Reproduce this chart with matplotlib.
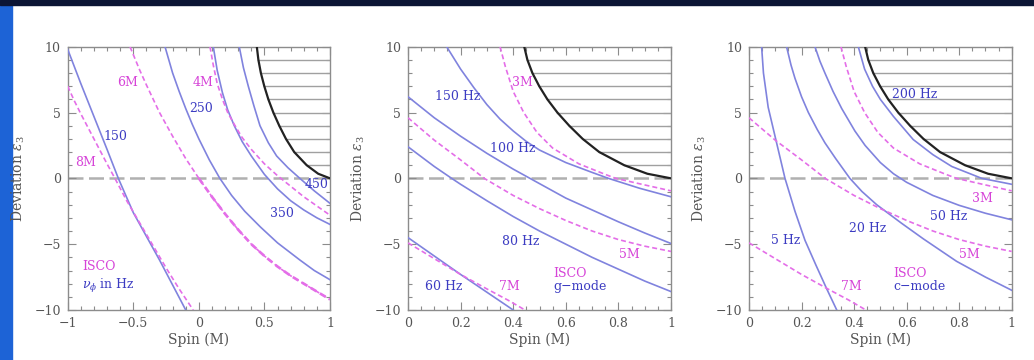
import numpy as np
import matplotlib.pyplot as plt
from matplotlib.patches import Rectangle
from matplotlib.ticker import FixedLocator, MultipleLocator

plt.rcParams["font.family"] = ["DejaVu Serif"]
plt.rcParams["mathtext.fontset"] = "dejavuserif"

# ---- data ----
# boundary of the excluded (hatched) region, same in all panels
edge_spin = [0.442, 0.454, 0.473, 0.499, 0.53, 0.568, 0.613, 0.664, 0.727, 0.822, 0.91, 1.0]
edge_eps = [10.0, 9.0, 8.0, 7.0, 6.0, 5.0, 4.0, 3.0, 2.0, 1.0, 0.35, 0.0]
hatch_levels = [1, 2, 3, 4, 5, 6, 7, 8, 9]

# panel 1: orbital frequency nu_phi
p1_150_spin = [-1.0, -0.9, -0.8, -0.7, -0.614, -0.5, -0.4, -0.3, -0.2, -0.1]
p1_150_eps = [9.8, 7.2, 4.7, 2.2, 0.0, -2.6, -4.4, -6.2, -8.1, -10.0]
p1_250_spin = [-0.258, -0.2, -0.15, -0.1, -0.05, 0.0, 0.08, 0.16, 0.25, 0.35, 0.47, 0.6, 0.77, 0.88, 1.0]
p1_250_eps = [10.0, 8.0, 6.6, 5.3, 4.1, 3.0, 1.4, 0.0, -1.3, -2.5, -3.7, -4.9, -6.2, -7.0, -7.7]
p1_350_spin = [0.11, 0.14, 0.18, 0.22, 0.27, 0.33, 0.4, 0.5, 0.6, 0.7, 0.8, 0.9, 1.0]
p1_350_eps = [10.0, 8.2, 6.5, 5.2, 4.0, 2.8, 1.7, 0.3, -0.8, -1.7, -2.4, -3.0, -3.5]
p1_450_spin = [0.308, 0.34, 0.377, 0.42, 0.466, 0.53, 0.593, 0.68, 0.77, 0.88, 1.0]
p1_450_eps = [10.0, 8.4, 7.0, 5.5, 4.0, 2.7, 1.7, 0.8, 0.0, -0.95, -1.9]

isco8_spin = [-1.0, -0.95, -0.9, -0.8, -0.7, -0.64, -0.55, -0.45, -0.35, -0.25, -0.15, -0.043]
isco8_eps = [7.0, 5.9, 4.9, 3.0, 1.1, 0.0, -1.7, -3.4, -5.1, -6.8, -8.4, -10.0]
isco6_spin = [-0.525, -0.45, -0.4, -0.3, -0.2, -0.1, 0.0, 0.1, 0.2, 0.3, 0.4, 0.5, 0.6, 0.7, 0.8, 0.9, 1.0]
isco6_eps = [10.0, 8.2, 7.1, 5.0, 3.2, 1.5, 0.0, -1.4, -2.7, -3.9, -5.0, -5.9, -6.7, -7.4, -8.0, -8.6, -9.2]
isco4_spin = [0.085, 0.11, 0.14, 0.18, 0.22, 0.27, 0.33, 0.4, 0.5, 0.6, 0.7, 0.8, 0.9, 1.0]
isco4_eps = [10.0, 8.6, 7.2, 6.0, 5.0, 4.1, 3.1, 2.2, 1.1, 0.2, -0.6, -1.4, -2.1, -2.8]

# ISCO curves shared by panels 2 and 3
isco3_spin = [0.35, 0.37, 0.40, 0.44, 0.49, 0.55, 0.65, 0.75, 0.79, 0.9, 1.0]
isco3_eps = [10.0, 8.5, 6.6, 5.0, 3.5, 2.3, 1.1, 0.3, 0.0, -0.5, -0.95]
isco5_spin = [0.0, 0.1, 0.2, 0.29, 0.4, 0.5, 0.6, 0.7, 0.8, 0.9, 1.0]
isco5_eps = [4.6, 2.9, 1.4, 0.0, -1.3, -2.3, -3.2, -4.0, -4.65, -5.15, -5.55]
isco7_spin = [0.0, 0.1, 0.2, 0.3, 0.38, 0.445]
isco7_eps = [-4.9, -6.1, -7.3, -8.4, -9.25, -10.0]

# panel 2: g-mode
g150_spin = [0.147, 0.2, 0.25, 0.3, 0.35, 0.4, 0.45, 0.5, 0.6, 0.7, 0.762, 0.88, 1.0]
g150_eps = [10.0, 8.3, 6.9, 5.6, 4.5, 3.6, 2.8, 2.15, 1.2, 0.45, 0.0, -0.75, -1.4]
g100_spin = [0.0, 0.1, 0.2, 0.3, 0.4, 0.45, 0.5, 0.6, 0.7, 0.8, 0.9, 1.0]
g100_eps = [6.2, 4.6, 3.2, 1.9, 0.7, 0.15, -0.4, -1.5, -2.4, -3.3, -4.15, -4.95]
g80_spin = [0.0, 0.1, 0.166, 0.2, 0.3, 0.4, 0.5, 0.6, 0.7, 0.8, 0.9, 1.0]
g80_eps = [2.4, 0.9, 0.0, -0.45, -1.7, -2.9, -4.0, -5.0, -6.0, -6.9, -7.8, -8.6]
g60_spin = [0.0, 0.1, 0.2, 0.3, 0.4]
g60_eps = [-4.5, -5.9, -7.3, -8.65, -10.0]

# panel 3: c-mode
c5_spin = [0.048, 0.055, 0.073, 0.105, 0.137, 0.175, 0.213, 0.255, 0.296, 0.334]
c5_eps = [10.0, 8.0, 5.4, 2.7, 0.0, -2.5, -4.7, -6.6, -8.4, -10.0]
c20_spin = [0.143, 0.16, 0.175, 0.2, 0.226, 0.26, 0.289, 0.33, 0.384, 0.43, 0.486, 0.58, 0.664, 0.79, 0.9, 1.0]
c20_eps = [10.0, 8.6, 7.6, 6.2, 5.0, 3.7, 2.7, 1.5, 0.0, -1.0, -2.0, -3.4, -4.6, -6.3, -7.5, -8.5]
c50_spin = [0.251, 0.27, 0.289, 0.32, 0.353, 0.403, 0.442, 0.5, 0.55, 0.6, 0.7, 0.8, 0.9, 1.0]
c50_eps = [10.0, 8.9, 8.0, 6.6, 5.3, 3.6, 2.5, 1.2, 0.35, -0.3, -1.3, -2.05, -2.65, -3.15]
c200_spin = [0.416, 0.44, 0.47, 0.5, 0.55, 0.625, 0.7, 0.772, 0.886, 1.0]
c200_eps = [10.0, 8.3, 7.0, 6.0, 4.7, 2.95, 1.8, 0.9, 0.0, -0.45]

ytick_vals = [-10, -5, 0, 5, 10]
ytick_text = ["\u221210", "\u22125", "0", "5", "10"]
x1_vals = [-1, -0.5, 0, 0.5, 1]
x1_text = ["\u22121", "\u22120.5", "0", "0.5", "1"]
x2_vals = [0, 0.2, 0.4, 0.6, 0.8, 1]
x2_text = ["0", "0.2", "0.4", "0.6", "0.8", "1"]

BLUE = "#8083de"
BLUE_TXT = "#3c3cc2"
PINK = "#e46ee8"
PINK_TXT = "#d644d8"
FRAME = "#8c8c8c"
TXT = "#555555"


def draw_panel(ax, xlim, xvals, xtext, xminor, blues, pinks, labels):
    for s, e in blues:
        ax.plot(s, e, color=BLUE, lw=1.2, zorder=3)
    for s, e in pinks:
        ax.plot(s, e, color=PINK, lw=1.2, ls=(0, (3, 1.8)), zorder=3)

    # excluded region
    ax.plot(edge_spin, edge_eps, color="#222222", lw=1.6, zorder=4)
    for k in hatch_levels:
        x0 = np.interp(k, edge_eps[::-1], edge_spin[::-1])
        ax.plot([x0, xlim[1]], [k, k], color="#a0a0a0", lw=1.0, zorder=2)

    ax.axhline(0, color="#b0b0b0", lw=1.8, ls=(0, (6, 2.2)), zorder=1)

    for x, y, s, c, ha in labels:
        ax.text(x, y, s, color=c, fontsize=9, ha=ha, va="center", zorder=5)

    ax.set_xlim(*xlim)
    ax.set_ylim(-10, 10)
    ax.xaxis.set_major_locator(FixedLocator(xvals))
    ax.set_xticklabels(xtext)
    ax.xaxis.set_minor_locator(MultipleLocator(xminor))
    ax.yaxis.set_major_locator(FixedLocator(ytick_vals))
    ax.set_yticklabels(ytick_text)
    ax.yaxis.set_minor_locator(MultipleLocator(1))
    ax.tick_params(which="both", direction="in", top=True, right=True, color=FRAME)
    ax.tick_params(which="major", length=6, width=0.8, labelsize=9, labelcolor=TXT, pad=5)
    ax.tick_params(which="minor", length=3, width=0.8)
    for sp in ax.spines.values():
        sp.set_color(FRAME)
        sp.set_linewidth(1.0)
    ax.set_xlabel("Spin (M)", fontsize=10, color=TXT)
    ax.set_ylabel(r"Deviation $\epsilon_3$", fontsize=10, color=TXT)
    ax.xaxis.set_label_coords(0.5, -0.085)
    ax.yaxis.set_label_coords(-0.155, 0.5)


fig = plt.figure(figsize=(10.34, 3.6), dpi=100)
fig.add_artist(Rectangle((0, 0), 12 / 1034, 1, transform=fig.transFigure,
                         color="#1d63d6", zorder=0))
fig.add_artist(Rectangle((0, 1 - 5 / 360), 1, 5 / 360, transform=fig.transFigure,
                         color="#0c1535", zorder=0))

bottom = 1 - 310 / 360
height = 263.3 / 360
ax1 = fig.add_axes([67.7 / 1034, bottom, 262.3 / 1034, height])
ax2 = fig.add_axes([408 / 1034, bottom, 263 / 1034, height])
ax3 = fig.add_axes([749 / 1034, bottom, 262.7 / 1034, height])

draw_panel(
    ax1, (-1, 1), x1_vals, x1_text, 0.1,
    [(p1_150_spin, p1_150_eps), (p1_250_spin, p1_250_eps),
     (p1_350_spin, p1_350_eps), (p1_450_spin, p1_450_eps)],
    [(isco8_spin, isco8_eps), (isco6_spin, isco6_eps), (isco4_spin, isco4_eps)],
    [(-0.54, 7.3, "6M", PINK_TXT, "center"),
     (0.03, 7.3, "4M", PINK_TXT, "center"),
     (0.02, 5.3, "250", BLUE_TXT, "center"),
     (-0.64, 3.2, "150", BLUE_TXT, "center"),
     (-0.86, 1.2, "8M", PINK_TXT, "center"),
     (0.9, -0.5, "450", BLUE_TXT, "center"),
     (0.63, -2.7, "350", BLUE_TXT, "center"),
     (-0.89, -6.7, "ISCO", PINK_TXT, "left"),
     (-0.89, -8.2, r"$\nu_\phi$ in Hz", BLUE_TXT, "left")],
)
# the lower branch of the 6M curve is drawn heavier on the slide
m6 = np.array(isco6_eps) <= 0
ax1.plot(np.array(isco6_spin)[m6], np.array(isco6_eps)[m6], color=PINK, lw=1.9,
         ls=(0, (2.5, 1.5)), zorder=3)

draw_panel(
    ax2, (0, 1), x2_vals, x2_text, 0.05,
    [(g150_spin, g150_eps), (g100_spin, g100_eps),
     (g80_spin, g80_eps), (g60_spin, g60_eps)],
    [(isco3_spin, isco3_eps), (isco5_spin, isco5_eps), (isco7_spin, isco7_eps)],
    [(0.435, 7.3, "3M", PINK_TXT, "center"),
     (0.19, 6.2, "150 Hz", BLUE_TXT, "center"),
     (0.40, 2.3, "100 Hz", BLUE_TXT, "center"),
     (0.43, -4.8, "80 Hz", BLUE_TXT, "center"),
     (0.84, -5.8, "5M", PINK_TXT, "center"),
     (0.553, -7.2, "ISCO", PINK_TXT, "left"),
     (0.553, -8.2, "g\u2212mode", BLUE_TXT, "left"),
     (0.135, -8.2, "60 Hz", BLUE_TXT, "center"),
     (0.385, -8.2, "7M", PINK_TXT, "center")],
)

draw_panel(
    ax3, (0, 1), x2_vals, x2_text, 0.05,
    [(c5_spin, c5_eps), (c20_spin, c20_eps),
     (c50_spin, c50_eps), (c200_spin, c200_eps)],
    [(isco3_spin, isco3_eps), (isco5_spin, isco5_eps), (isco7_spin, isco7_eps)],
    [(0.63, 6.4, "200 Hz", BLUE_TXT, "center"),
     (0.89, -1.5, "3M", PINK_TXT, "center"),
     (0.76, -2.9, "50 Hz", BLUE_TXT, "center"),
     (0.45, -3.8, "20 Hz", BLUE_TXT, "center"),
     (0.14, -4.7, "5 Hz", BLUE_TXT, "center"),
     (0.84, -5.8, "5M", PINK_TXT, "center"),
     (0.55, -7.2, "ISCO", PINK_TXT, "left"),
     (0.55, -8.2, "c\u2212mode", BLUE_TXT, "left"),
     (0.39, -8.2, "7M", PINK_TXT, "center")],
)

fig.savefig("out.png", dpi=100)
